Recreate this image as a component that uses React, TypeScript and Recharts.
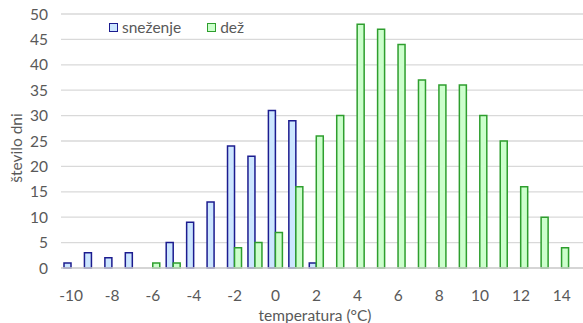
import React from 'react';
import { BarChart, Bar, XAxis, YAxis, CartesianGrid, Legend, Label } from 'recharts';

// temperature categories (°C) and day counts per series
const temperature = [-10, -9, -8, -7, -6, -5, -4, -3, -2, -1, 0, 1, 2, 3, 4, 5, 6, 7, 8, 9, 10, 11, 12, 13, 14];
const snezenje = [1, 3, 2, 3, null, 5, 9, 13, 24, 22, 31, 29, 1, null, null, null, null, null, null, null, null, null, null, null, null];
const dez = [null, null, null, null, 1, 1, null, null, 4, 5, 7, 16, 26, 30, 48, 47, 44, 37, 36, 36, 30, 25, 16, 10, 4];
const yTicks = [0, 5, 10, 15, 20, 25, 30, 35, 40, 45, 50];

const series = [
    { key: 'snezenje', name: 'sneženje', fill: '#cce6ff', stroke: '#1c1c8f' },
    { key: 'dez', name: 'dež', fill: '#ccffcc', stroke: '#2e9e2e' },
];

const data = temperature.map((t, i) => ({ t, snezenje: snezenje[i], dez: dez[i] }));

const FONT = 'Lato, "Open Sans", sans-serif';
const FONT_SIZE = 15.5;
const TEXT = '#595959';

const LegendBoxes = () => (
    <div style={{ display: 'flex', alignItems: 'center', fontFamily: FONT, fontSize: FONT_SIZE, color: TEXT }}>
        {series.map((s) => (
            <div key={s.key} style={{ display: 'flex', alignItems: 'center', marginRight: 26 }}>
                <span
                    style={{
                        display: 'inline-block',
                        width: 7,
                        height: 7,
                        background: s.fill,
                        border: `1.5px solid ${s.stroke}`,
                        marginRight: 4,
                    }}
                />
                <span>{s.name}</span>
            </div>
        ))}
    </div>
);

export default function App() {
    return (
        <div style={{ position: 'absolute', left: 0, top: 0, width: 583, height: 323, overflow: 'hidden', background: '#fff' }}>
            <BarChart
                width={583}
                height={323}
                data={data}
                margin={{ top: 14, right: 0, bottom: 0, left: 0 }}
                barGap={0}
            >
                <CartesianGrid vertical={false} stroke="#d9d9d9" strokeWidth={1.3} />
                <XAxis
                    dataKey="t"
                    interval={1}
                    height={55}
                    padding={{ left: 0, right: 11 }}
                    tickLine={false}
                    tickSize={0}
                    tickMargin={22}
                    axisLine={{ stroke: '#d0d0d0', strokeWidth: 1.3 }}
                    tick={{ fill: TEXT, fontSize: FONT_SIZE, fontFamily: FONT }}
                >
                    <Label
                        value="temperatura (°C)"
                        position="center"
                        dx={-7}
                        dy={20}
                        style={{ fill: TEXT, fontSize: FONT_SIZE, fontFamily: FONT }}
                    />
                </XAxis>
                <YAxis
                    width={61}
                    domain={[0, 50]}
                    ticks={yTicks}
                    interval={0}
                    axisLine={false}
                    tickLine={false}
                    tickSize={0}
                    tickMargin={13}
                    tick={{ fill: TEXT, fontSize: FONT_SIZE, fontFamily: FONT }}
                >
                    <Label
                        value="število dni"
                        position="center"
                        angle={-90}
                        dx={-14}
                        dy={7}
                        style={{ fill: TEXT, fontSize: FONT_SIZE, fontFamily: FONT }}
                    />
                </YAxis>
                {/* centred + middle keeps the legend from shrinking the plot area */}
                <Legend
                    content={<LegendBoxes />}
                    verticalAlign="middle"
                    align="center"
                    wrapperStyle={{ top: 18, left: 109, width: 'auto' }}
                />
                {series.map((s) => (
                    <Bar
                        key={s.key}
                        dataKey={s.key}
                        name={s.name}
                        fill={s.fill}
                        stroke={s.stroke}
                        strokeWidth={1.5}
                        barSize={7}
                        isAnimationActive={false}
                    />
                ))}
            </BarChart>
        </div>
    );
}
